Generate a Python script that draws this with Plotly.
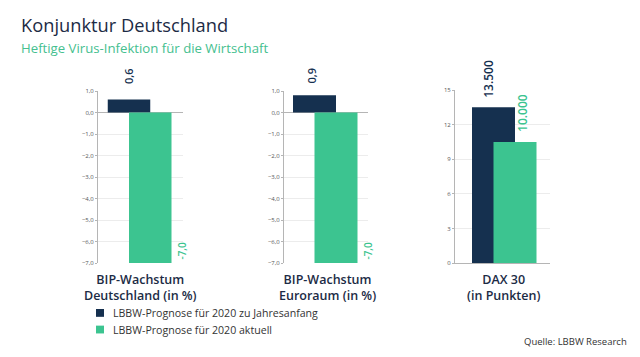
import plotly.graph_objects as go

# ---------------- data ----------------
panel_titles = ["BIP-Wachstum<br>Deutschland (in %)",
                "BIP-Wachstum<br>Euroraum (in %)",
                "DAX 30<br>(in Punkten)"]
series_names = ["LBBW-Prognose für 2020 zu Jahresanfang",
                "LBBW-Prognose für 2020 aktuell"]
start_values = [0.6, 0.8, 13.5]        # dark bars (as drawn)
current_values = [-7.0, -7.0, 10.5]    # green bars (as drawn)
start_labels = ["0,6", "0,9", "13.500"]
current_labels = ["-7,0", "-7,0", "10.000"]
gdp_ticks = [1, 0, -1, -2, -3, -4, -5, -6, -7]
dax_ticks = [0, 3, 6, 9, 12, 15]
source_text = "Quelle: LBBW Research"

# ---------------- style ----------------
W, H = 640, 357
DARK = "#15304f"
GREEN = "#3cc490"
TITLE_C = "#1c2b45"
FONT = "Open Sans"

# panel boxes in pixels: x0, x1, ytop, ybottom ; dark bar centre ; bar width
boxes = [(98, 183, 89, 265, 129.0, 42.5),
         (284, 368, 89, 265, 314.5, 43.0),
         (455, 550, 88, 265, 493.5, 43.0)]
yranges = [[-7, 1], [-7, 1], [0, 15]]
tickvals = [gdp_ticks, gdp_ticks, dax_ticks]
tickfmt = [".1f", ".1f", "d"]


def px(x):
    return x / W


def py(y):
    return 1 - y / H


fig = go.Figure()
annotations = []
for i in range(3):
    x0, x1, yt, yb, c, bw = boxes[i]
    xa = "x" if i == 0 else f"x{i+1}"
    ya = "y" if i == 0 else f"y{i+1}"
    fig.add_trace(go.Bar(x=[0], y=[start_values[i]], width=[1], marker_color=DARK,
                         marker_line_width=0, name=series_names[0], showlegend=False,
                         xaxis=xa, yaxis=ya, hoverinfo="skip"))
    fig.add_trace(go.Bar(x=[0.5], y=[current_values[i]], width=[1], marker_color=GREEN,
                         marker_line_width=0, name=series_names[1], showlegend=False,
                         xaxis=xa, yaxis=ya, hoverinfo="skip"))
    xr = [(x0 - c) / bw, (x1 - c) / bw]
    key = "" if i == 0 else str(i + 1)
    fig.layout["xaxis" + key] = dict(domain=[px(x0), px(x1)], range=xr, anchor=ya,
                                     showgrid=False, zeroline=False, showticklabels=False,
                                     showline=(i == 2), linecolor="#b5b5b5", linewidth=1,
                                     fixedrange=True)
    fig.layout["yaxis" + key] = dict(domain=[py(yb), py(yt)], range=yranges[i], anchor=xa,
                                     tickvals=tickvals[i], tickformat=tickfmt[i],
                                     tickfont=dict(size=6, color="#555555", family=FONT),
                                     ticks="outside", ticklen=2, tickcolor="#b5b5b5",
                                     showgrid=True, gridcolor="#ececec", gridwidth=1,
                                     zeroline=(i < 2), zerolinecolor="#b5b5b5", zerolinewidth=1,
                                     showline=True, linecolor="#b5b5b5", linewidth=1,
                                     fixedrange=True)
    # panel titles
    centers = [140, 327, 503]
    annotations.append(dict(text=panel_titles[i], xref="paper", yref="paper",
                            x=px(centers[i]), y=py(271), xanchor="center", yanchor="top",
                            showarrow=False, align="center",
                            font=dict(family=FONT, size=12.5, color=TITLE_C, weight=600)))
    # value labels
    if i < 2:
        annotations.append(dict(text=start_labels[i], xref=xa, yref="paper",
                                x=0, y=py(84), xanchor="center", yanchor="bottom",
                                textangle=-90, showarrow=False, xshift=-1 - 2 * i,
                                font=dict(family=FONT, size=11, color=DARK, weight=600)))
        annotations.append(dict(text=current_labels[i], xref=xa, yref=ya,
                                x=1.0, y=yranges[i][0], xanchor="left", yanchor="bottom",
                                textangle=-90, showarrow=False, xshift=2, yshift=1,
                                font=dict(family=FONT, size=10, color=GREEN, weight=600)))
    else:
        annotations.append(dict(text=start_labels[i], xref=xa, yref=ya,
                                x=0, y=start_values[i], xanchor="center", yanchor="bottom",
                                textangle=-90, showarrow=False, xshift=-5, yshift=7,
                                font=dict(family=FONT, size=12, color=DARK, weight=600)))
        annotations.append(dict(text=current_labels[i], xref=xa, yref=ya,
                                x=0.5, y=current_values[i], xanchor="center", yanchor="bottom",
                                textangle=-90, showarrow=False, xshift=8, yshift=8,
                                font=dict(family=FONT, size=12, color=GREEN, weight=600)))

# headline
annotations.append(dict(text="Konjunktur Deutschland", xref="paper", yref="paper",
                        x=px(19), y=py(21), xanchor="left", yanchor="middle", showarrow=False,
                        font=dict(family=FONT, size=18.3, color=TITLE_C)))
annotations.append(dict(text="Heftige Virus-Infektion für die Wirtschaft", xref="paper",
                        yref="paper", x=px(19), y=py(45), xanchor="left", yanchor="middle",
                        showarrow=False, font=dict(family=FONT, size=13.2, color="#45c08f")))
# legend (drawn manually)
shapes = []
leg_y = [316, 333]
leg_c = [DARK, GREEN]
for k in range(2):
    shapes.append(dict(type="rect", xref="paper", yref="paper",
                       x0=px(96), x1=px(104), y0=py(leg_y[k] + 4), y1=py(leg_y[k] - 4),
                       fillcolor=leg_c[k], line_width=0))
    annotations.append(dict(text=series_names[k], xref="paper", yref="paper",
                            x=px(111), y=py(leg_y[k]), xanchor="left", yanchor="middle",
                            showarrow=False, font=dict(family=FONT, size=10.6, color="#333333")))
annotations.append(dict(text=source_text, xref="paper", yref="paper",
                        x=px(629), y=py(345), xanchor="right", yanchor="middle",
                        showarrow=False, font=dict(family=FONT, size=9.5, color="#333333")))

fig.update_layout(width=W, height=H, autosize=False, margin=dict(l=0, r=0, t=0, b=0),
                  paper_bgcolor="white", plot_bgcolor="white", barmode="overlay",
                  separators=",.", showlegend=False, annotations=annotations, shapes=shapes,
                  font=dict(family=FONT))
fig.write_html("out.html", config={"displayModeBar": False},
               post_script="document.body.style.margin='0';document.body.style.overflow='hidden';")
